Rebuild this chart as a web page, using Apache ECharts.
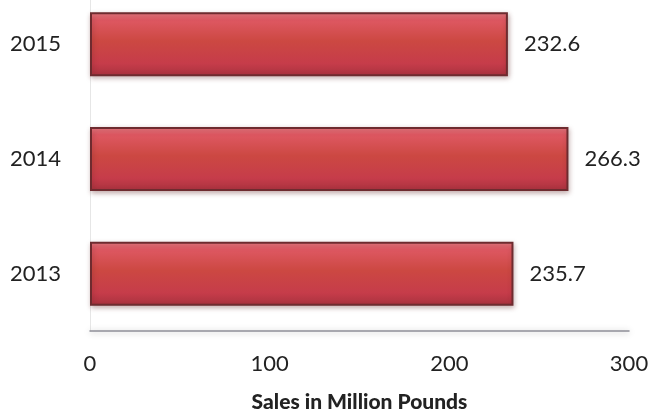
<!DOCTYPE html>
<html>
<head>
<meta charset="utf-8">
<script src="https://cdn.jsdelivr.net/npm/echarts@6/dist/echarts.min.js"></script>
<style>
  html, body { margin: 0; padding: 0; background: #ffffff; }
  #chart { width: 663px; height: 415px; }
</style>
</head>
<body>
<div id="chart"></div>
<script>
// Annual sales, in million pounds
const years = ['2013', '2014', '2015'];
const sales = [235.7, 266.3, 232.6];
const xTicks = [0, 100, 200, 300];

const FONT = 'Lato, "Open Sans", sans-serif';

const barFill = new echarts.graphic.LinearGradient(0, 0, 0, 1, [
  { offset: 0, color: '#ee8088' },
  { offset: 0.12, color: '#de5862' },
  { offset: 0.45, color: '#cc4842' },
  { offset: 0.8, color: '#c63c4a' },
  { offset: 1, color: '#a8323e' }
]);

const chart = echarts.init(document.getElementById('chart'));
chart.setOption({
  animation: false,
  backgroundColor: '#ffffff',
  grid: {
    left: 90, right: 34, top: -13, height: 344,
    containLabel: false,
    outerBoundsMode: 'none'
  },
  xAxis: {
    type: 'value',
    min: xTicks[0],
    max: xTicks[xTicks.length - 1],
    interval: 100,
    name: 'Sales in Million Pounds',
    nameLocation: 'middle',
    nameGap: 61,
    nameTextStyle: { fontFamily: FONT, fontSize: 21, fontWeight: 900, color: '#222' },
    axisLine: {
      show: true,
      lineStyle: {
        color: '#8f8f98',
        width: 1.5,
        shadowColor: 'rgba(0,0,0,0.3)',
        shadowBlur: 6,
        shadowOffsetY: 1
      }
    },
    axisTick: { show: false },
    splitLine: { show: false },
    axisLabel: { fontFamily: FONT, fontSize: 22, color: '#222', margin: 22 }
  },
  yAxis: {
    type: 'category',
    data: years,
    axisLine: {
      show: true,
      lineStyle: { color: '#e6e6e6', width: 1 }
    },
    axisTick: { show: false },
    axisLabel: { fontFamily: FONT, fontSize: 22, color: '#222', margin: 29 }
  },
  series: [
    {
      type: 'bar',
      data: sales,
      barWidth: 64,
      itemStyle: {
        color: barFill,
        borderColor: '#6e2b2f',
        borderWidth: 2,
        shadowColor: 'rgba(90,30,30,0.35)',
        shadowBlur: 5,
        shadowOffsetX: 1,
        shadowOffsetY: 2
      },
      label: {
        show: true,
        position: 'right',
        distance: 16,
        fontFamily: FONT,
        fontSize: 22,
        color: '#222',
        formatter: p => p.value.toFixed(1)
      }
    }
  ]
});
</script>
</body>
</html>
